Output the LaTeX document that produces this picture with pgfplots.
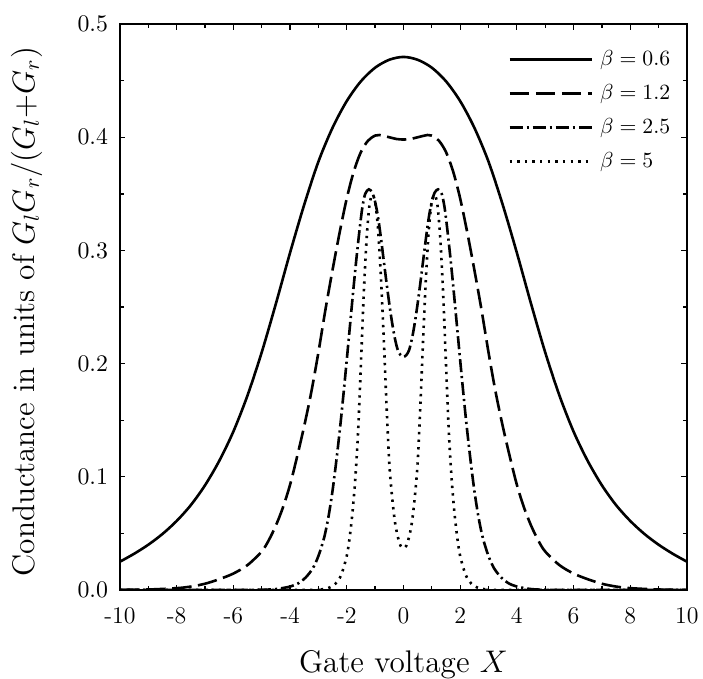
\documentclass[border=0pt]{standalone}
\usepackage{pgfplots}
\pgfplotsset{compat=1.18}
\begin{document}
\begin{tikzpicture}
\begin{axis}[
  at={(0pt,0pt)}, anchor=south west,
  scale only axis, width=261pt, height=260.5pt,
  xmin=-10, xmax=10, ymin=0, ymax=0.5,
  xtick={-10,-8,-6,-4,-2,0,2,4,6,8,10},
  xticklabels={-10,-8,-6,-4,-2,0,2,4,6,8,10},
  ytick={0,0.1,0.2,0.3,0.4,0.5},
  minor x tick num=1, minor y tick num=1,
  tick label style={font=\fontsize{11}{13}\selectfont},
  yticklabel style={/pgf/number format/fixed,/pgf/number format/fixed zerofill,/pgf/number format/precision=1, xshift=-2pt},
  xticklabel style={yshift=-4.6pt},
  tick align=inside, xtick pos=both, ytick pos=both,
  major tick length=2.5pt, minor tick length=2pt,
  every tick/.style={black, line width=0.6pt},
  axis line style={line width=0.8pt},
  xlabel={Gate voltage $X$},
  ylabel={Conductance in units of $G_lG_r/(G_l{+}G_r)$},
  xlabel style={font=\Large, at={(axis description cs:0.5,0)}, anchor=base, yshift=-37.8pt},
  ylabel style={font=\Large, at={(axis description cs:-0.165,0.492)}, anchor=center},
  legend style={draw=none, fill=none, at={(1,1)}, anchor=north east, xshift=-1.5pt, yshift=-8pt, font=\fontsize{9.7}{11.5}\selectfont, row sep=3.2pt, nodes={inner xsep=3pt}},
  legend cell align=left,
  legend image code/.code={\draw[#1] (0pt,0pt) -- (38pt,0pt);},
  every axis plot/.append style={line width=1.2pt, black, smooth, tension=0.5},
]
\addplot[solid] coordinates {
(-10,0.025)(-9.5,0.032)(-9,0.040)(-8.5,0.0495)(-8,0.061)(-7.5,0.075)(-7,0.0925)(-6.5,0.114)(-6,0.140)(-5.5,0.172)(-5,0.210)(-4.5,0.253)(-4,0.298)(-3.5,0.3405)(-3,0.3785)(-2.5,0.4085)(-2,0.432)(-1.5,0.4495)(-1,0.4615)(-0.5,0.4685)(0,0.471)
(0.5,0.4685)(1,0.4615)(1.5,0.4495)(2,0.432)(2.5,0.4085)(3,0.3785)(3.5,0.3405)(4,0.298)(4.5,0.253)(5,0.210)(5.5,0.172)(6,0.140)(6.5,0.114)(7,0.0925)(7.5,0.075)(8,0.061)(8.5,0.0495)(9,0.040)(9.5,0.032)(10,0.025)
};
\addlegendentry{$\beta=0.6$}
\addplot[dash pattern=on 9pt off 3pt] coordinates {
(-10,0.0001)(-9,0.0004)(-8,0.0016)(-7.5,0.003)(-7,0.0055)(-6.5,0.0095)(-6,0.0145)(-5.5,0.022)(-5,0.034)(-4.75,0.044)(-4.5,0.057)(-4.25,0.073)(-4,0.093)(-3.75,0.118)(-3.5,0.145)(-3.25,0.175)(-3,0.210)(-2.75,0.248)(-2.5,0.283)(-2.25,0.316)(-2,0.346)(-1.75,0.370)(-1.5,0.387)(-1.25,0.397)(-1,0.4015)(-0.85,0.402)(-0.5,0.400)(-0.25,0.3985)(0,0.398)
(0.25,0.3985)(0.5,0.400)(0.85,0.402)(1,0.4015)(1.25,0.397)(1.5,0.387)(1.75,0.370)(2,0.346)(2.25,0.316)(2.5,0.283)(2.75,0.248)(3,0.210)(3.25,0.175)(3.5,0.145)(3.75,0.118)(4,0.093)(4.25,0.073)(4.5,0.057)(4.75,0.044)(5,0.034)(5.5,0.022)(6,0.0145)(6.5,0.0095)(7,0.0055)(7.5,0.003)(8,0.0016)(9,0.0004)(10,0.0001)
};
\addlegendentry{$\beta=1.2$}
\addplot[dash pattern=on 6pt off 1.8pt on 1pt off 1.8pt] coordinates {
(-10,0)(-6,0)(-5,0.0002)(-4.5,0.0008)(-4,0.003)(-3.7,0.006)(-3.45,0.011)(-3.2,0.019)(-3,0.030)(-2.8,0.046)(-2.65,0.064)(-2.5,0.088)(-2.35,0.118)(-2.2,0.152)(-2.05,0.190)(-1.9,0.230)(-1.75,0.270)(-1.65,0.295)(-1.55,0.318)(-1.45,0.338)(-1.35,0.350)(-1.22,0.354)(-1.1,0.351)(-1,0.343)(-0.9,0.330)(-0.8,0.312)(-0.7,0.292)(-0.6,0.272)(-0.5,0.253)(-0.4,0.236)(-0.3,0.222)(-0.2,0.212)(-0.1,0.2075)(0,0.206)
(0.1,0.2075)(0.2,0.212)(0.3,0.222)(0.4,0.236)(0.5,0.253)(0.6,0.272)(0.7,0.292)(0.8,0.312)(0.9,0.330)(1,0.343)(1.1,0.351)(1.22,0.354)(1.35,0.350)(1.45,0.338)(1.55,0.318)(1.65,0.295)(1.75,0.270)(1.9,0.230)(2.05,0.190)(2.2,0.152)(2.35,0.118)(2.5,0.088)(2.65,0.064)(2.8,0.046)(3,0.030)(3.2,0.019)(3.45,0.011)(3.7,0.006)(4,0.003)(4.5,0.0008)(5,0.0002)(6,0)(10,0)
};
\addlegendentry{$\beta=2.5$}
\addplot[dash pattern=on 1.1pt off 2.4pt] coordinates {
(-10,0)(-3.5,0)(-3,0.0003)(-2.8,0.0009)(-2.6,0.0022)(-2.4,0.0055)(-2.2,0.013)(-2,0.030)(-1.9,0.046)(-1.8,0.068)(-1.7,0.098)(-1.6,0.140)(-1.5,0.200)(-1.4,0.262)(-1.3,0.310)(-1.2,0.340)(-1.1,0.349)(-1,0.343)(-0.9,0.320)(-0.8,0.279)(-0.7,0.225)(-0.6,0.165)(-0.5,0.112)(-0.4,0.082)(-0.3,0.060)(-0.2,0.047)(-0.1,0.039)(0,0.037)
(0.1,0.039)(0.2,0.047)(0.3,0.060)(0.4,0.082)(0.5,0.112)(0.6,0.165)(0.7,0.225)(0.8,0.279)(0.9,0.320)(1,0.343)(1.1,0.349)(1.2,0.340)(1.3,0.310)(1.4,0.262)(1.5,0.200)(1.6,0.140)(1.7,0.098)(1.8,0.068)(1.9,0.046)(2,0.030)(2.2,0.013)(2.4,0.0055)(2.6,0.0022)(2.8,0.0009)(3,0.0003)(3.5,0)(10,0)
};
\addlegendentry{$\beta=5$}
\end{axis}
\pgfresetboundingbox
\path[use as bounding box] (-55.24pt,-40.97pt) rectangle (268.4pt,271.6pt);
\end{tikzpicture}
\end{document}
